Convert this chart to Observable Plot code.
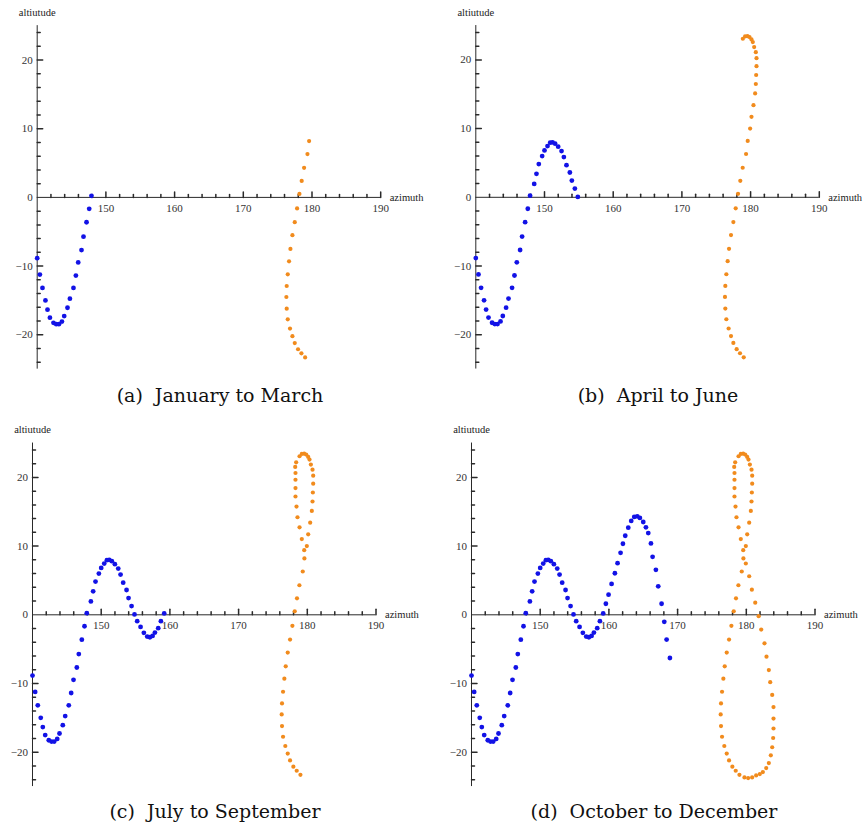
<!DOCTYPE html>
<html>
<head>
<meta charset="utf-8">
<script src="https://cdn.jsdelivr.net/npm/d3@7"></script>
<script src="https://cdn.jsdelivr.net/npm/@observablehq/plot@0.6"></script>
<style>
  html, body { margin: 0; padding: 0; background: #fff; }
  #root { position: relative; width: 865px; height: 827px; overflow: hidden; background: #fff; }
  .panel { position: absolute; }
  .cap { position: absolute; font-family: "DejaVu Serif", serif; font-size: 19px; line-height: 19px; color: #111; white-space: nowrap; transform: translateX(-50%); }
  .cap .tag { margin-right: 6px; }
</style>
</head>
<body>
<div id="root"></div>
<script>
// ---- data (azimuth, altitude), cumulative through the year ----
const blueAz = [
  140.0, 140.39, 140.77, 141.2, 141.5, 141.85, 142.37, 142.77, 143.16, 143.6, 143.93, 144.41, 144.76, 145.28, 145.63, 145.97, 146.45, 146.74, 147.18, 147.57, 147.9,
  148.5, 148.83, 149.17, 149.66, 150.0, 150.44, 150.83, 151.17, 151.55, 151.99, 152.48, 152.82, 153.2, 153.69, 153.98, 154.42, 154.85,
  155.24, 155.73, 156.21, 156.7, 157.09, 157.48, 157.82, 158.3, 158.69, 159.17,
  159.56, 159.95, 160.39, 160.87, 161.26, 161.7, 162.04, 162.38, 162.82, 163.25, 163.69, 164.13, 164.51, 165.0, 165.39, 165.73, 166.12, 166.36, 166.84, 167.18, 167.67, 168.06, 168.4, 168.88
];
const blueAlt = [
  -8.84, -11.23, -13.18, -14.99, -16.35, -17.5, -18.26, -18.45, -18.45, -18.07, -17.28, -16.06, -14.74, -13.18, -11.38, -9.47, -7.67, -5.71, -3.62, -1.67, 0.23,
  1.95, 3.41, 4.83, 6.0, 6.83, 7.46, 7.95, 8.0, 7.8, 7.37, 6.73, 5.85, 4.68, 3.61, 2.44, 1.27, 0.05,
  -0.93, -1.76, -2.63, -3.17, -3.27, -3.07, -2.59, -1.95, -0.93, 0.2,
  1.61, 2.93, 4.49, 6.05, 7.51, 9.02, 10.34, 11.51, 12.68, 13.66, 14.24, 14.34, 14.1, 13.51, 12.73, 11.9, 10.39, 8.44, 6.54, 4.15, 1.61, -1.02, -3.61, -6.29
];
const orangeAz = [
  179.0, 178.46, 177.97, 177.49, 177.15, 176.8, 176.47, 176.32, 176.27, 176.32, 176.47, 176.66, 176.86, 177.15, 177.49, 177.83, 178.17, 178.5, 178.85, 179.34, 179.58,
  179.93, 180.13, 180.42, 180.66, 180.76, 180.81, 180.86, 180.86, 180.76, 180.52, 180.32, 180.13, 179.84, 179.55, 179.2, 178.87,
  178.38, 178.24, 178.28, 178.28, 178.28, 178.28, 178.43, 178.57, 178.87, 179.2, 179.55,
  179.93, 180.42, 180.81, 181.3, 181.8, 182.17, 182.65, 182.94, 183.28, 183.48, 183.77, 183.96, 183.96, 183.96, 183.91, 183.77, 183.57, 183.28, 182.9, 182.41, 181.97, 181.43, 180.85, 180.27, 179.73
];
const orangeAlt = [
  -23.3, -22.7, -22.1, -21.2, -20.2, -19.1, -17.75, -16.2, -14.5, -12.9, -11.2, -9.3, -7.5, -5.5, -3.6, -1.6, 0.5, 2.4, 4.3, 6.3, 8.2,
  10.0, 11.71, 13.41, 15.12, 16.49, 17.8, 19.08, 20.25, 21.13, 21.86, 22.59, 22.98, 23.32, 23.45, 23.42, 23.08,
  22.2, 21.52, 20.64, 19.66, 18.45, 17.22, 15.75, 14.2, 12.74, 11.02, 9.41,
  7.47, 5.61, 3.66, 1.76, -0.2, -2.15, -4.15, -6.1, -8.05, -9.81, -11.67, -13.43, -15.1, -16.55, -17.93, -19.28, -20.45, -21.58, -22.31, -22.9, -23.19, -23.38, -23.67, -23.77, -23.67
];
// number of points shown in each panel (cumulative)
const blueCounts = [21, 38, 48, 72];
const orangeCounts = [21, 37, 48, 73];
const captionTags = ["(a)", "(b)", "(c)", "(d)"];
const captionTexts = ["January to March", "April to June", "July to September", "October to December"];
const xTickValues = [150, 160, 170, 180, 190];
const xTickLabels = ["150", "160", "170", "180", "190"];
const yTickValues = [-20, -10, 0, 10, 20];
const yTickLabels = ["\u221220", "\u221210", "0", "10", "20"];
const xDomain = [140, 190];
const yDomain = [-25, 25];
const xLabel = "azimuth";
const yLabel = "altiutude";

// ---- layout ----
const S = 6.87; // px per unit
const panels = [
  {left: 0,   top: 0,   ox: 36.7,  oy: 196.9, capX: 220, capTop: 386},
  {left: 432, top: 0,   ox: 475.3, oy: 196.8, capX: 658, capTop: 386},
  {left: 0,   top: 414, ox: 32,    oy: 614.3, capX: 215, capTop: 802},
  {left: 432, top: 414, ox: 471,   oy: 614.3, capX: 654, capTop: 802}
];
const BLUE = "#1212e6";
const ORANGE = "#f18b1d";
const AX = "#2a2a2a";

const blue = blueAz.map((a, i) => ({az: a, alt: blueAlt[i]}));
const orange = orangeAz.map((a, i) => ({az: a, alt: orangeAlt[i]}));

const tickShape = {draw(ctx, l) { ctx.moveTo(0, 0); ctx.lineTo(0, -l); }};
const xMinor = d3.range(142, 190, 2).filter(v => v % 10 !== 0);
const yMinor = d3.range(-24, 25, 2).filter(v => v % 10 !== 0);
const yMajorTicks = [-20, -10, 10, 20];

const root = document.getElementById("root");
panels.forEach((p, k) => {
  const ox = p.ox - p.left, oy = p.oy - p.top;
  const svg = Plot.plot({
    width: 433, height: 380,
    marginTop: 0, marginRight: 0, marginBottom: 0, marginLeft: 0,
    style: {fontFamily: "'Liberation Serif', serif", fontSize: "11px", background: "transparent", overflow: "visible", color: "#333"},
    x: {domain: xDomain, range: [ox, ox + (xDomain[1] - xDomain[0]) * S], axis: null},
    y: {domain: yDomain, range: [oy + (yDomain[1] - yDomain[0]) / 2 * S, oy - (yDomain[1] - yDomain[0]) / 2 * S], axis: null},
    marks: [
      Plot.ruleY([0], {x1: xDomain[0], x2: xDomain[1], stroke: AX, strokeWidth: 1}),
      Plot.ruleX([xDomain[0]], {y1: yDomain[0], y2: yDomain[1], stroke: AX, strokeWidth: 1}),
      Plot.vector(xMinor, {x: d => d, y: 0, length: 3, rotate: 0, anchor: "start", shape: tickShape, stroke: AX}),
      Plot.vector(xTickValues, {x: d => d, y: 0, length: 5.5, rotate: 0, anchor: "start", shape: tickShape, stroke: AX}),
      Plot.vector(yMinor, {x: xDomain[0], y: d => d, length: 3, rotate: 90, anchor: "start", shape: tickShape, stroke: AX}),
      Plot.vector(yMajorTicks, {x: xDomain[0], y: d => d, length: 5.5, rotate: 90, anchor: "start", shape: tickShape, stroke: AX}),
      Plot.text(xTickValues, {x: d => d, y: 0, dy: 11, text: (d, i) => xTickLabels[i], fill: "#333"}),
      Plot.text(yTickValues, {x: xDomain[0], y: d => d, dx: -4.5, textAnchor: "end", text: (d, i) => yTickLabels[i], fill: "#333"}),
      Plot.text([xLabel], {x: xDomain[1], y: 0, dx: 9, dy: 0, textAnchor: "start", text: d => d, fill: "#222", fontSize: 10.5}),
      Plot.text([yLabel], {x: xDomain[0], y: yDomain[1], dy: -13, textAnchor: "middle", text: d => d, fill: "#222", fontSize: 10.5}),
      Plot.dot(orange.slice(0, orangeCounts[k]), {x: "az", y: "alt", r: 2.1, fill: ORANGE, stroke: null}),
      Plot.dot(blue.slice(0, blueCounts[k]), {x: "az", y: "alt", r: 2.4, fill: BLUE, stroke: null})
    ]
  });
  const wrap = document.createElement("div");
  wrap.className = "panel";
  wrap.style.left = p.left + "px";
  wrap.style.top = p.top + "px";
  wrap.appendChild(svg);
  root.appendChild(wrap);

  const cap = document.createElement("div");
  cap.className = "cap";
  cap.style.left = p.capX + "px";
  cap.style.top = p.capTop + "px";
  const tag = document.createElement("span");
  tag.className = "tag";
  tag.textContent = captionTags[k];
  cap.appendChild(tag);
  cap.appendChild(document.createTextNode(" " + captionTexts[k]));
  root.appendChild(cap);
});
</script>
</body>
</html>
